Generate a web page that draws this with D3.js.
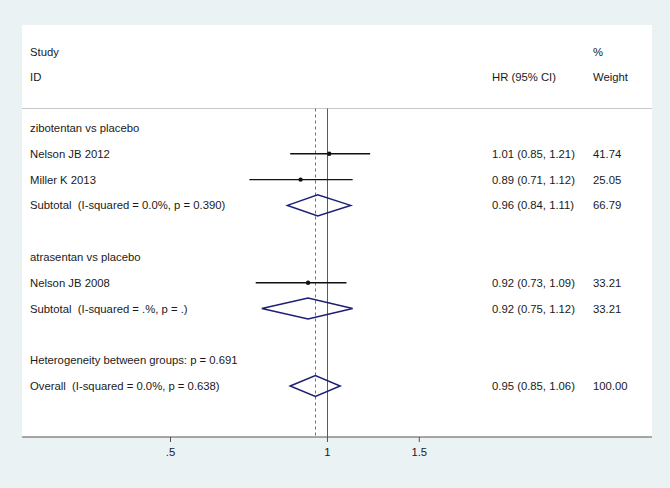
<!DOCTYPE html>
<html>
<head>
<meta charset="utf-8">
<script src="https://cdnjs.cloudflare.com/ajax/libs/d3/7.8.5/d3.min.js"></script>
<style>
  html, body { margin: 0; padding: 0; background: #eaf2f3; }
  svg { display: block; }
  text { white-space: pre; }
</style>
</head>
<body>
<div id="viz"></div>
<script>
// rows of the forest plot, top to bottom (row index = position)
var rowLabels = ["zibotentan vs placebo", "Nelson JB 2012", "Miller K 2013",
  "Subtotal  (I-squared = 0.0%, p = 0.390)", "",
  "atrasentan vs placebo", "Nelson JB 2008", "Subtotal  (I-squared = .%, p = .)", "",
  "Heterogeneity between groups: p = 0.691", "Overall  (I-squared = 0.0%, p = 0.638)"];
var rowKind = ["head", "study", "study", "sub", "blank", "head", "study", "sub", "blank", "head", "sub"];
var hr     = [null, 1.01, 0.89, 0.96, null, null, 0.92, 0.92, null, null, 0.95];
var lower  = [null, 0.85, 0.71, 0.84, null, null, 0.73, 0.75, null, null, 0.85];
var upper  = [null, 1.21, 1.12, 1.11, null, null, 1.09, 1.12, null, null, 1.06];
var weight = [null, 41.74, 25.05, 66.79, null, null, 33.21, 33.21, null, null, 100.00];
var overallHR = 0.95;
var ticks = [0.5, 1, 1.5];

var width = 670, height = 488;
var panel = {x0: 22, x1: 652, y0: 25, y1: 437};
var sepY = 108.5;
var fontSize = "11.3px";

var x = d3.scaleLog().domain([0.5, 1.5]).range([170, 418.8]);
var y = d3.scaleLinear().domain([0, rowLabels.length - 1]).range([128, 386]);
var f2 = d3.format(".2f");

var svg = d3.select("#viz").append("svg")
  .attr("width", width)
  .attr("height", height)
  .style("font-family", "'Liberation Sans', Arial, sans-serif")
  .style("font-size", fontSize);

svg.append("rect")
  .attr("x", panel.x0).attr("y", panel.y0)
  .attr("width", panel.x1 - panel.x0).attr("height", panel.y1 - panel.y0)
  .attr("fill", "#fff");

// header
var hdr = svg.append("g").attr("fill", "#1a1a1a");
hdr.append("text").attr("x", 30).attr("y", 52).attr("dy", "0.35em").text("Study");
hdr.append("text").attr("x", 30).attr("y", 77).attr("dy", "0.35em").text("ID");
hdr.append("text").attr("x", 492).attr("y", 77).attr("dy", "0.35em").text("HR (95% CI)");
hdr.append("text").attr("x", 593).attr("y", 52).attr("dy", "0.35em").text("%");
hdr.append("text").attr("x", 593).attr("y", 77).attr("dy", "0.35em").text("Weight");

svg.append("line")
  .attr("x1", panel.x0).attr("x2", panel.x1)
  .attr("y1", sepY).attr("y2", sepY)
  .attr("stroke", "#c8c8c8").attr("stroke-width", 1);

// reference lines
svg.append("line")
  .attr("x1", Math.round(x(1)) + 0.5).attr("x2", Math.round(x(1)) + 0.5)
  .attr("y1", sepY).attr("y2", panel.y1)
  .attr("stroke", "#5a5a5a").attr("stroke-width", 1);

svg.append("line")
  .attr("x1", Math.round(x(overallHR)) + 0.5).attr("x2", Math.round(x(overallHR)) + 0.5)
  .attr("y1", sepY).attr("y2", panel.y1)
  .attr("stroke", "#c04a5c").attr("stroke-width", 1)
  .attr("stroke-dasharray", "3,3");

var rows = rowLabels.map(function(d, i) {
  return {label: d, kind: rowKind[i], hr: hr[i], lo: lower[i], hi: upper[i], w: weight[i], i: i};
});

// labels
svg.append("g").attr("fill", "#1a1a1a")
  .selectAll("text")
  .data(rows.filter(function(d) { return d.label; }))
  .enter().append("text")
  .attr("x", 30)
  .attr("y", function(d) { return y(d.i); })
  .attr("dy", "0.35em")
  .text(function(d) { return d.label; });

var est = rows.filter(function(d) { return d.hr != null; });

svg.append("g").attr("fill", "#1a1a1a")
  .selectAll("text")
  .data(est)
  .enter().append("text")
  .attr("x", 492)
  .attr("y", function(d) { return y(d.i); })
  .attr("dy", "0.35em")
  .text(function(d) { return f2(d.hr) + " (" + f2(d.lo) + ", " + f2(d.hi) + ")"; });

svg.append("g").attr("fill", "#1a1a1a")
  .selectAll("text")
  .data(est)
  .enter().append("text")
  .attr("x", 593)
  .attr("y", function(d) { return y(d.i); })
  .attr("dy", "0.35em")
  .text(function(d) { return f2(d.w); });

// study CIs
var studies = est.filter(function(d) { return d.kind == "study"; });
svg.append("g").selectAll("line")
  .data(studies)
  .enter().append("line")
  .attr("x1", function(d) { return x(d.lo); })
  .attr("x2", function(d) { return x(d.hi); })
  .attr("y1", function(d) { return y(d.i); })
  .attr("y2", function(d) { return y(d.i); })
  .attr("stroke", "#111").attr("stroke-width", 1.4);

svg.append("g").selectAll("circle")
  .data(studies)
  .enter().append("circle")
  .attr("cx", function(d) { return x(d.hr); })
  .attr("cy", function(d) { return y(d.i); })
  .attr("r", 2.2)
  .attr("fill", "#111");

// diamonds
var dh = 10.5;
svg.append("g").selectAll("path")
  .data(est.filter(function(d) { return d.kind == "sub"; }))
  .enter().append("path")
  .attr("d", function(d) {
    var cy = y(d.i);
    return "M" + x(d.lo) + "," + cy + "L" + x(d.hr) + "," + (cy - dh) +
      "L" + x(d.hi) + "," + cy + "L" + x(d.hr) + "," + (cy + dh) + "Z";
  })
  .attr("fill", "none")
  .attr("stroke", "#1c1f73")
  .attr("stroke-width", 1.5);

// axis
var axis = svg.append("g")
  .attr("transform", "translate(0," + panel.y1 + ")")
  .call(d3.axisBottom(x).tickValues(ticks).tickSize(5).tickPadding(6)
    .tickFormat(function(d) { return d == 1 ? "1" : d3.format(".1f")(d).replace(/^0/, ""); }));
axis.select(".domain").remove();
axis.selectAll("line").attr("stroke", "#555");
axis.selectAll("text").attr("fill", "#1a1a1a")
  .style("font-family", "'Liberation Sans', Arial, sans-serif").style("font-size", fontSize);
svg.append("line")
  .attr("x1", panel.x0).attr("x2", panel.x1)
  .attr("y1", panel.y1).attr("y2", panel.y1)
  .attr("stroke", "#555").attr("stroke-width", 1.2);
</script>
</body>
</html>
